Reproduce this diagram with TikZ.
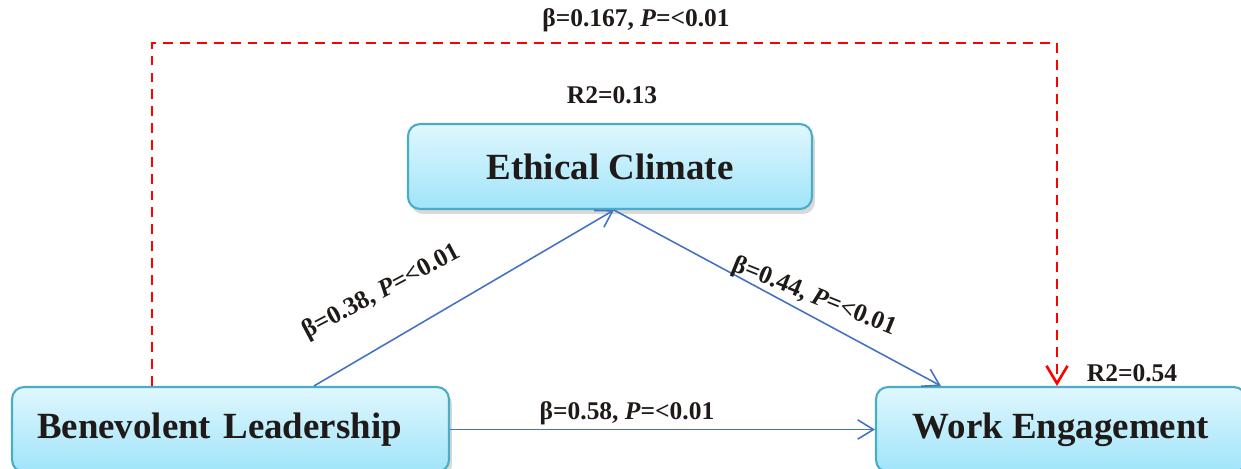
\documentclass[tikz,border=0pt]{standalone}
\usepackage{fontspec}
\setmainfont{Liberation Serif}
\usetikzlibrary{arrows.meta,shadows,calc}
\definecolor{boxtop}{RGB}{224,247,253}
\definecolor{boxbot}{RGB}{160,228,250}
\definecolor{boxline}{RGB}{75,172,198}
\definecolor{pathblue}{RGB}{68,114,196}
\definecolor{inkdark}{RGB}{31,26,23}
\begin{document}
\begin{tikzpicture}
		[x = 0.02cm, y = -0.02cm,
		construct/.style={draw=boxline,line width=1.2pt,rounded corners=0.24cm,top color=boxtop,bottom color=boxbot,text=inkdark,font=\fontsize{21}{25}\selectfont\bfseries,drop shadow={shadow xshift=0.6mm,shadow yshift=-1mm,opacity=0.3}},
		effect/.style={pathblue,line width=0.9pt,-{Straight Barb[length=9pt,width=11pt]}},
		directeffect/.style={red,line width=1.5pt,dash pattern=on 5.6pt off 4pt,-{Straight Barb[length=10pt,width=12pt]}},
		coef/.style={text=inkdark,font=\fontsize{14.5}{17}\selectfont\bfseries,inner sep=1pt}
		]
        \clip (0,0) rectangle (1241,468);

        % constructs
        \node[construct,minimum width=8.08cm,minimum height=1.7cm] (ec) at (610,166.5) {Ethical Climate};
        \node[construct,minimum width=8.74cm,minimum height=1.7cm,text width=7.74cm,align=left] (bl) at (230.5,429.5) {Benevolent Leadership};
        \node[construct,minimum width=7.4cm,minimum height=1.7cm] (we) at (1061,429.5) {Work Engagement};

        % explained variance
        \node[coef] (r2ec) at (612,95) {R2=0.13};
        \node[coef] (r2we) at (1132,373) {R2=0.54};

        % direct effect
        \coordinate (dtop) at (600,43);
        \draw[directeffect] ([xshift=-1.57cm]bl.north) |- (dtop) -| ([xshift=-0.08cm]we.north);
        \node[coef] (cdir) at (636,20) {β=0.167, \textit{P}=<0.01};

        % mediated paths
        \draw[effect] ([xshift=1.67cm]bl.north) -- ([xshift=0.08cm]ec.south);
        \draw[effect] ([xshift=0.08cm]ec.south) -- ([xshift=1.32cm]we.north west);
        \draw[effect] (bl.east) -- (we.west);
        \node[coef,rotate=28] (ca) at (382,292) {β=0.38, \textit{P}=<0.01};
        \node[coef,rotate=-22] (cb) at (814,297) {β=0.44, \textit{P}=<0.01};
        \node[coef] (cc) at (627,413) {β=0.58, \textit{P}=<0.01};
\end{tikzpicture}
\end{document}
